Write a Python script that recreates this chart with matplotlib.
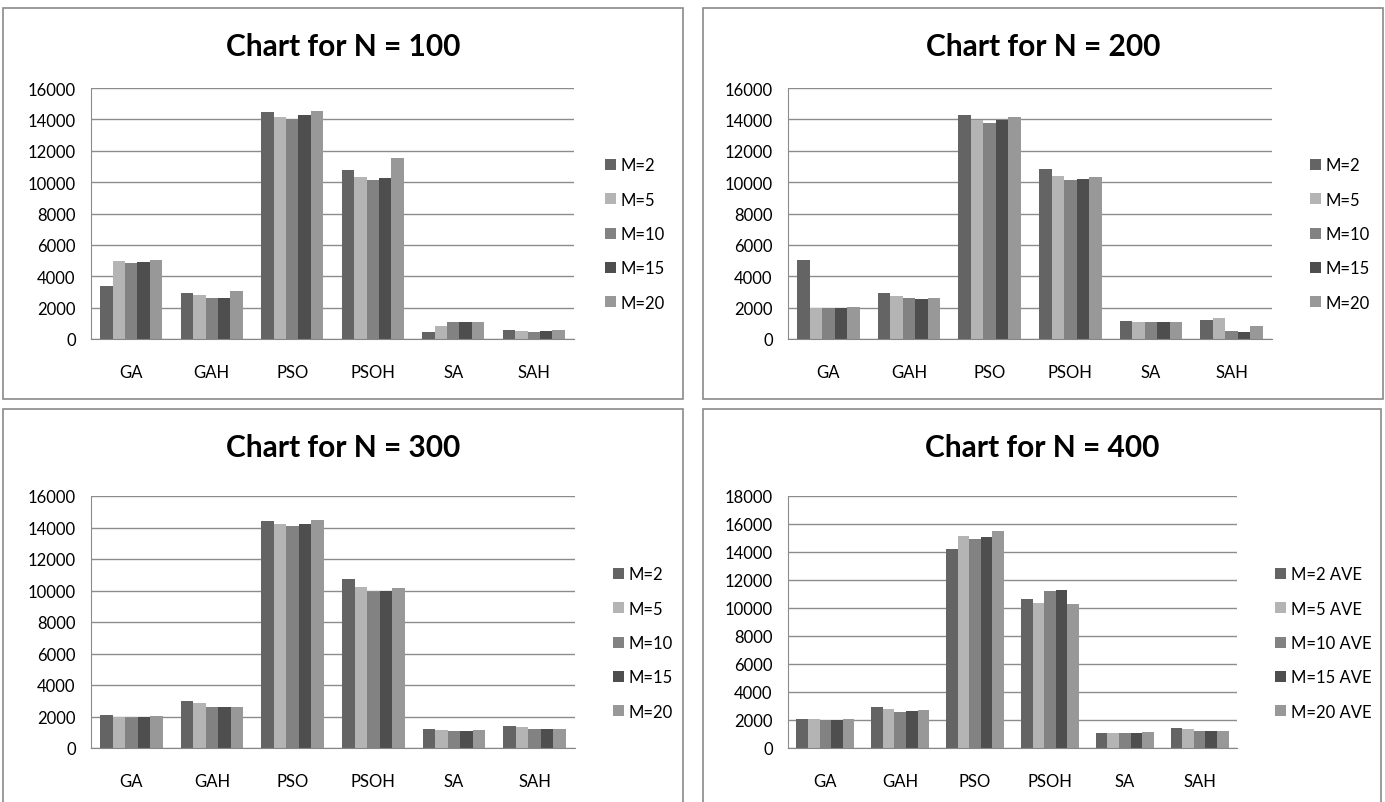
import numpy as np
import matplotlib.pyplot as plt
from matplotlib.patches import Rectangle

plt.rcParams['font.family'] = ['Lato', 'DejaVu Sans']

categories = ['GA', 'GAH', 'PSO', 'PSOH', 'SA', 'SAH']
series_names = ['M=2', 'M=5', 'M=10', 'M=15', 'M=20']
series_names_400 = ['M=2 AVE', 'M=5 AVE', 'M=10 AVE', 'M=15 AVE', 'M=20 AVE']
colors = ['#646464', '#b4b4b4', '#828282', '#4e4e4e', '#989898']

# values per series (M=2, M=5, M=10, M=15, M=20), order of categories
n100 = [
    [3380, 2910, 14470, 10750, 430, 550],
    [4950, 2800, 14170, 10350, 850, 490],
    [4820, 2610, 14050, 10110, 1060, 430],
    [4890, 2610, 14280, 10280, 1060, 490],
    [5060, 3040, 14530, 11560, 1060, 550],
]
n200 = [
    [5010, 2930, 14300, 10820, 1130, 1190],
    [1980, 2760, 13940, 10410, 1060, 1320],
    [1980, 2630, 13790, 10110, 1060, 490],
    [1980, 2570, 13940, 10180, 1060, 430],
    [2040, 2630, 14170, 10350, 1060, 850],
]
n300 = [
    [2080, 2970, 14430, 10720, 1190, 1420],
    [2000, 2840, 14240, 10210, 1120, 1320],
    [1930, 2630, 14090, 9930, 1080, 1210],
    [2000, 2630, 14220, 10000, 1080, 1210],
    [2040, 2630, 14470, 10160, 1120, 1210],
]
n400 = [
    [2050, 2940, 14180, 10650, 1100, 1460],
    [2050, 2820, 15110, 10340, 1100, 1340],
    [2000, 2600, 14900, 11220, 1070, 1190],
    [2000, 2650, 15090, 11290, 1100, 1190],
    [2050, 2700, 15490, 10290, 1150, 1240],
]

W, H = 1385, 803
fig = plt.figure(figsize=(13.85, 8.03), dpi=100)


def box(l, t, r, b):
    return [l / W, 1 - b / H, (r - l) / W, (b - t) / H]


panels = [
    ('Chart for N = 100', n100, series_names, 16000, (3, 9, 683, 400), (91, 89, 574, 340), 590, 235),
    ('Chart for N = 200', n200, series_names, 16000, (703, 9, 1383, 400), (788, 89, 1272, 340), 1295, 235),
    ('Chart for N = 300', n300, series_names, 16000, (3, 410, 683, 820), (91, 497, 575, 749), 598, 644),
    ('Chart for N = 400', n400, series_names_400, 18000, (703, 410, 1381, 820), (788, 497, 1237, 749), 1260, 644),
]

x = np.arange(len(categories))
bw = 0.155

for title, data, names, ymax, frame, area, leg_x, leg_y in panels:
    fl, ft, fr, fb = frame
    fig.patches.append(Rectangle((fl / W, 1 - fb / H), (fr - fl) / W, (fb - ft) / H,
                                 transform=fig.transFigure, fill=False,
                                 edgecolor='#8a8a8a', linewidth=1.2))
    ax = fig.add_axes(box(*area))
    for i, vals in enumerate(data):
        ax.bar(x + (i - 2) * bw, vals, bw, color=colors[i], label=names[i])
    ax.set_xlim(-0.5, len(categories) - 0.5)
    ax.set_ylim(0, ymax)
    ax.set_yticks(np.arange(0, ymax + 1, 2000))
    ax.set_xticks(x)
    ax.set_xticklabels(categories)
    ax.yaxis.grid(True, color='#8c8c8c', linewidth=1)
    ax.set_axisbelow(True)
    for s in ['top', 'right']:
        ax.spines[s].set_visible(False)
    ax.spines['left'].set_color('#8c8c8c')
    ax.spines['bottom'].set_color('#868686')
    ax.tick_params(axis='both', length=0, labelsize=12, colors='#000000')
    ax.tick_params(axis='x', pad=18)
    ax.tick_params(axis='y', pad=11)
    fig.text((fl + fr) / 2 / W, 1 - (ft + 38) / H, title, ha='center', va='center',
             fontsize=21.5, fontweight='bold')
    ax.legend(loc='center left', bbox_to_anchor=(leg_x / W, 1 - leg_y / H),
              bbox_transform=fig.transFigure, frameon=False, fontsize=12,
              handlelength=0.65, handleheight=0.65, handletextpad=0.3,
              labelspacing=1.1)

plt.savefig('out.png', dpi=100)
